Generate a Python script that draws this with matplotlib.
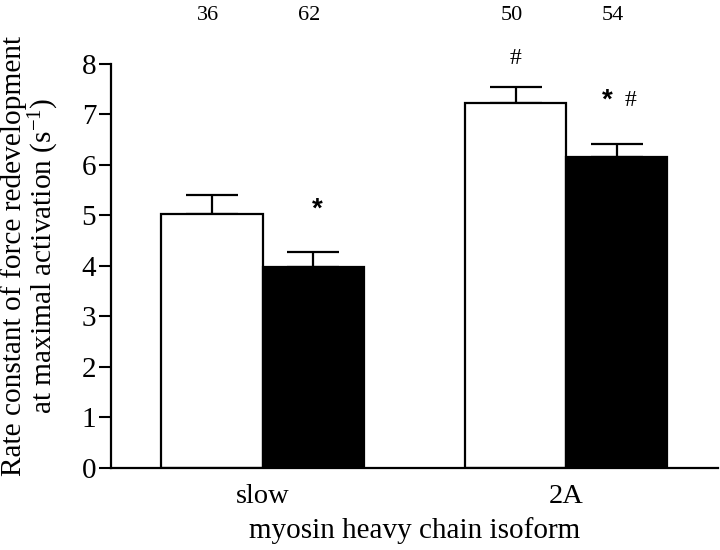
import matplotlib
matplotlib.use("Agg")
import matplotlib.pyplot as plt
import numpy as np

plt.rcParams['font.family'] = ['Liberation Serif', 'DejaVu Serif']
plt.rcParams['mathtext.fontset'] = 'custom'
plt.rcParams['mathtext.rm'] = 'Liberation Serif'
plt.rcParams['mathtext.it'] = 'Liberation Serif:italic'

# Data
isoforms = ["slow", "2A"]
white_means = [5.03, 7.23]
white_sem = [0.38, 0.32]
black_means = [3.97, 6.16]
black_sem = [0.30, 0.26]
white_n = ["36", "50"]
black_n = ["62", "54"]
white_marks = ["", "#"]
black_marks = ["*", "* #"]

fig = plt.figure(figsize=(7.2, 5.5), dpi=100)
ax = fig.add_axes([0.154, 0.15, 0.843, 0.7336])

x = np.arange(len(isoforms))
w = 1/3
xw = x - w/2
xb = x + w/2

ax.bar(xw, white_means, width=w, color="white", edgecolor="black", linewidth=1.6, zorder=2)
ax.bar(xb, black_means, width=w, color="black", edgecolor="black", linewidth=1.6, zorder=2)
ax.errorbar(xw, white_means, yerr=[np.zeros(2), white_sem], fmt="none", ecolor="black",
            elinewidth=1.6, capsize=18.5, capthick=1.6, zorder=1)
ax.errorbar(xb, black_means, yerr=[np.zeros(2), black_sem], fmt="none", ecolor="black",
            elinewidth=1.6, capsize=18.5, capthick=1.6, zorder=1)

ax.set_xlim(-0.5, 1.5)
ax.set_ylim(0, 8)
ax.set_yticks(range(0, 9))
ax.set_xticks(x)
ax.set_xticklabels(isoforms, fontsize=20.5)
ax.tick_params(axis="y", length=8.5, width=1.5, labelsize=21, pad=2)
ax.tick_params(axis="x", length=0, pad=12)
for s in ["top", "right"]:
    ax.spines[s].set_visible(False)
for s in ["left", "bottom"]:
    ax.spines[s].set_linewidth(1.6)

ax.set_xlabel("myosin heavy chain isoform", fontsize=21, labelpad=6)
ax.set_ylabel("Rate constant of force redevelopment\nat maximal activation (s$^{-1}$)",
              fontsize=21.2, linespacing=1.0)
ax.yaxis.label.set_va("center")
ax.yaxis.set_label_coords(-0.133, 0.524)

# n labels
for xi, n in zip(xw, white_n):
    ax.text(xi - 0.012, 1.121, n, transform=ax.get_xaxis_transform(), ha="center", va="center", fontsize=16)
for xi, n in zip(xb, black_n):
    ax.text(xi - 0.012, 1.121, n, transform=ax.get_xaxis_transform(), ha="center", va="center", fontsize=16)

# significance marks
for xi, m, s, mk in zip(xw, white_means, white_sem, white_marks):
    if mk:
        ax.text(xi, m + s + 0.55, mk, ha="center", va="center", fontsize=17)
for xi, m, s, mk in zip(xb, black_means, black_sem, black_marks):
    if mk:
        parts = mk.split(" ")
        if len(parts) == 1:
            ax.text(xi + 0.015, m + s + 0.85, "*", ha="center", va="center", fontsize=20,
                    family="Liberation Sans", fontweight="bold")
        else:
            ax.text(xi - 0.03, m + s + 0.85, "*", ha="center", va="center", fontsize=20,
                    family="Liberation Sans", fontweight="bold")
            ax.text(xi + 0.045, m + s + 0.85, "#", ha="center", va="center", fontsize=17)

fig.savefig("out.png", dpi=100)
